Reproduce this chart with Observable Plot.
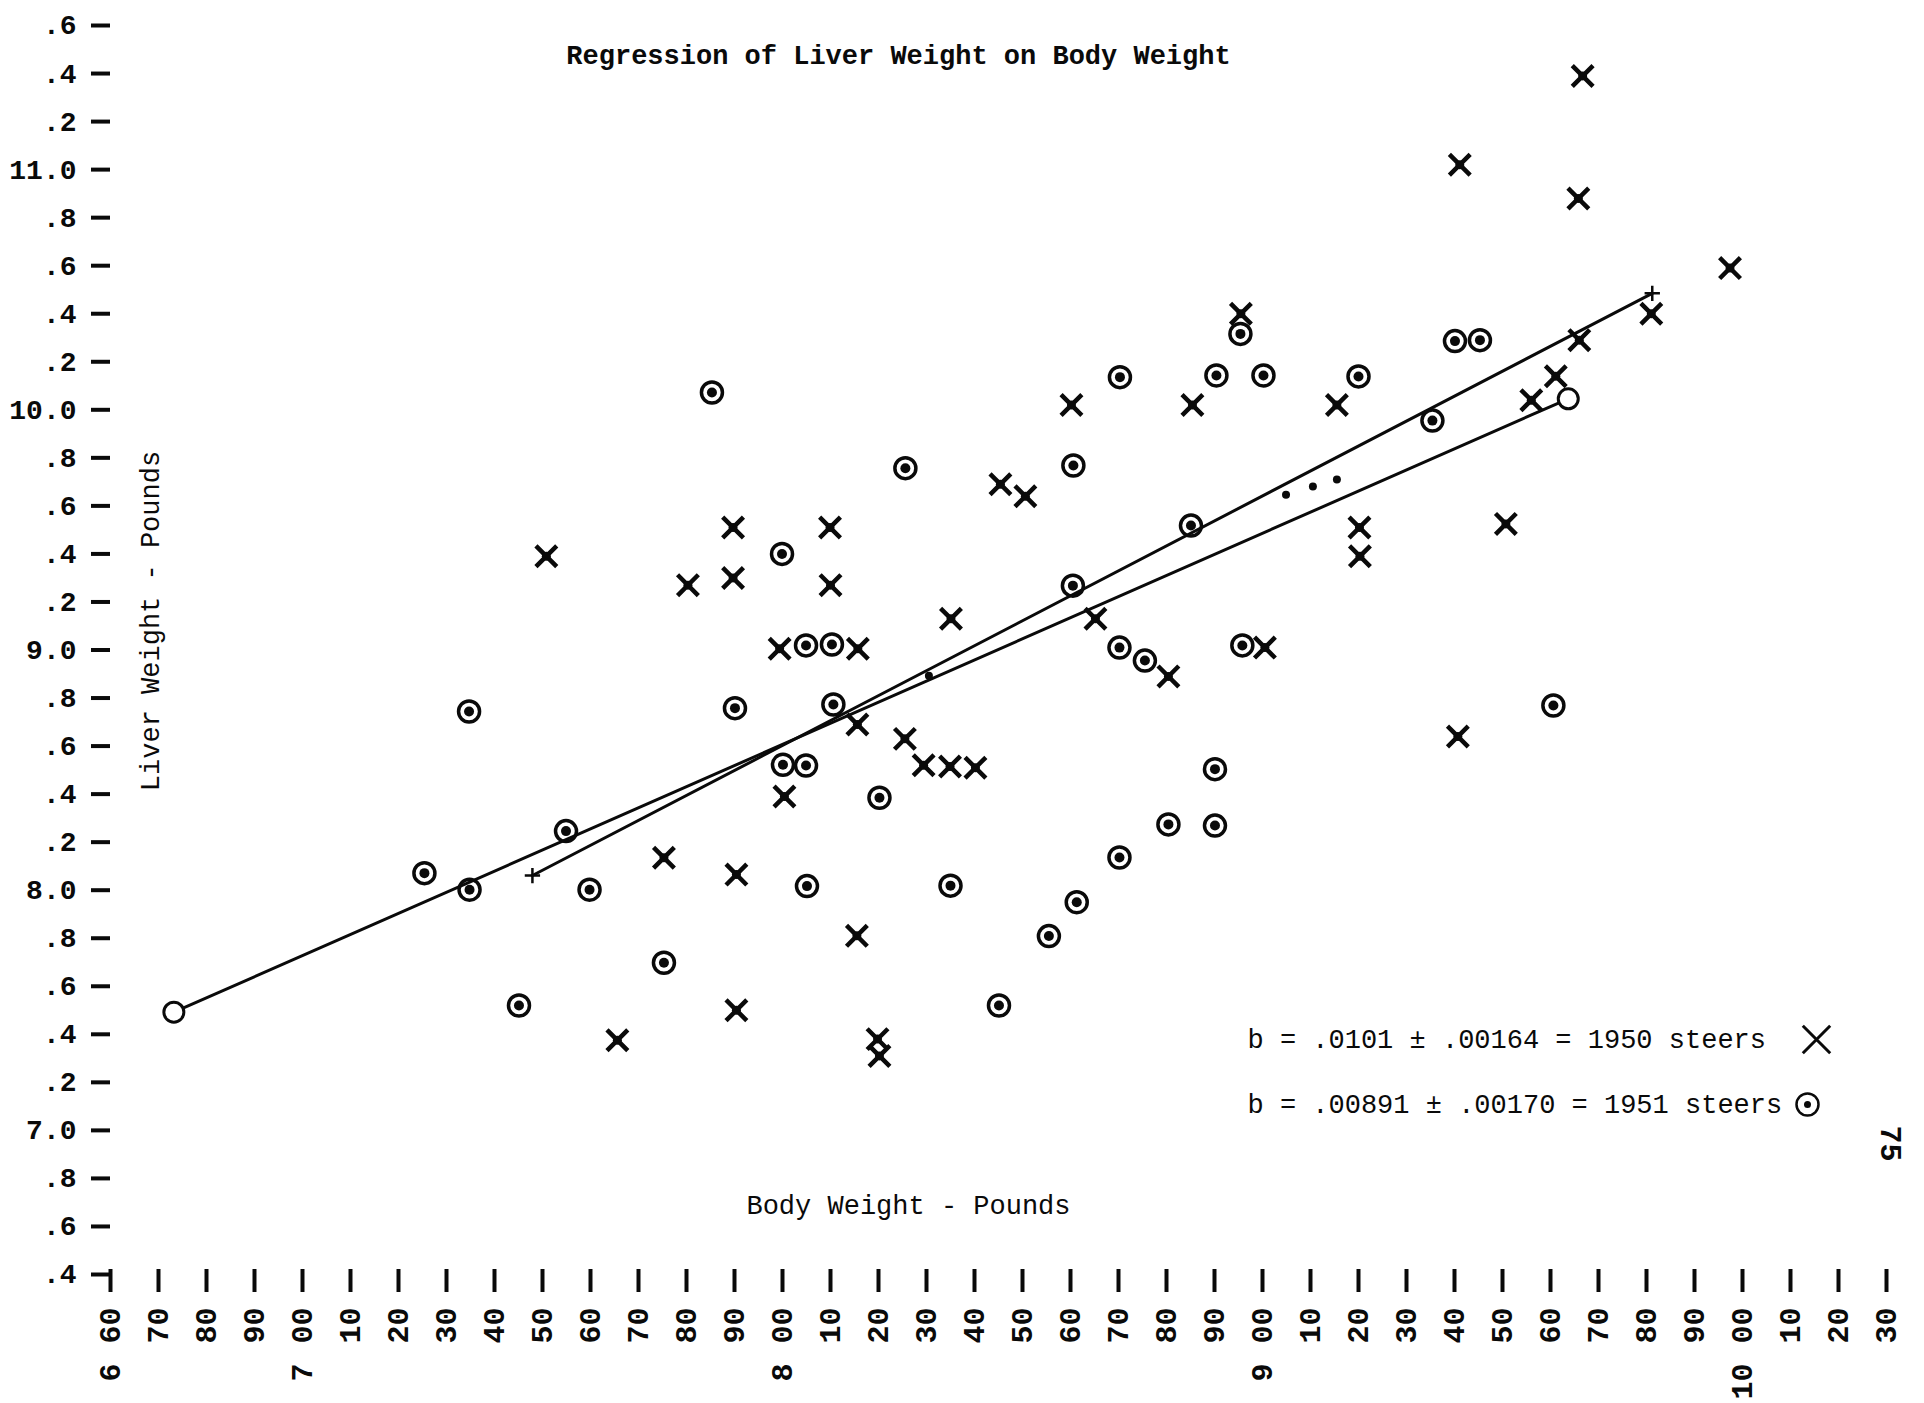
<!DOCTYPE html>
<html>
<head>
<meta charset="utf-8">
<script src="https://cdn.jsdelivr.net/npm/d3@7"></script>
<script src="https://cdn.jsdelivr.net/npm/@observablehq/plot@0.6"></script>
<style>
  html, body { margin: 0; padding: 0; background: #fff; }
  #chart { width: 1924px; height: 1403px; overflow: hidden; }
</style>
</head>
<body>
<div id="chart"></div>
<script>
// ---- Texts ----
const titleText = "Regression of Liver Weight on Body Weight";
const xTitle = "Body Weight - Pounds";
const yTitle = "Liver Weight - Pounds";
const legend1950 = "b = .0101 ± .00164 = 1950 steers";
const legend1951 = "b = .00891 ± .00170 = 1951 steers";
const pageNumber = "75";

// ---- Tick values and labels ----
const xTickValues = [660, 670, 680, 690, 700, 710, 720, 730, 740, 750, 760, 770, 780, 790, 800, 810, 820, 830, 840, 850, 860, 870, 880, 890, 900, 910, 920, 930, 940, 950, 960, 970, 980, 990, 1000, 1010, 1020, 1030];
const xTickLabels = ["60", "70", "80", "90", "00", "10", "20", "30", "40", "50", "60", "70", "80", "90", "00", "10", "20", "30", "40", "50", "60", "70", "80", "90", "00", "10", "20", "30", "40", "50", "60", "70", "80", "90", "00", "10", "20", "30"];
const xHundredValues = [660, 700, 800, 900, 1000];
const xHundredLabels = ["6", "7", "8", "9", "10"];
const yTickValues = [6.4, 6.6, 6.8, 7.0, 7.2, 7.4, 7.6, 7.8, 8.0, 8.2, 8.4, 8.6, 8.8, 9.0, 9.2, 9.4, 9.6, 9.8, 10.0, 10.2, 10.4, 10.6, 10.8, 11.0, 11.2, 11.4, 11.6];
const yTickLabels = [".4", ".6", ".8", "7.0", ".2", ".4", ".6", ".8", "8.0", ".2", ".4", ".6", ".8", "9.0", ".2", ".4", ".6", ".8", "10.0", ".2", ".4", ".6", ".8", "11.0", ".2", ".4", ".6"];

// ---- 1950 steers (X) ----
const body1950 = [966.7, 941.1, 965.8, 997.4, 895.5, 966.0, 981.0, 961.1, 956.0, 860.2, 885.4, 915.5, 845.4, 850.6, 789.7, 809.9, 920.2, 950.7, 750.8, 920.3, 789.7, 780.3, 810.0, 835.1, 865.2, 799.4, 815.7, 900.5, 880.4, 815.6, 825.5, 829.4, 834.9, 840.2, 940.7, 800.4, 775.3, 790.4, 815.5, 790.4, 765.6, 819.8, 820.2];
const liver1950 = [11.39, 11.02, 10.88, 10.59, 10.40, 10.29, 10.40, 10.14, 10.04, 10.02, 10.02, 10.02, 9.69, 9.64, 9.51, 9.51, 9.51, 9.525, 9.39, 9.39, 9.30, 9.27, 9.27, 9.13, 9.13, 9.005, 9.005, 9.01, 8.89, 8.69, 8.63, 8.52, 8.515, 8.51, 8.64, 8.39, 8.135, 8.065, 7.81, 7.50, 7.375, 7.38, 7.31];

// ---- 1951 steers (circled dot) ----
const body1951 = [895.4, 940.1, 945.3, 870.3, 890.4, 900.2, 920.0, 785.3, 935.4, 825.6, 860.6, 885.1, 799.9, 860.5, 804.9, 810.3, 870.2, 895.8, 875.5, 734.7, 790.1, 810.6, 960.6, 800.1, 804.9, 890.1, 820.2, 754.9, 880.4, 890.1, 870.2, 725.4, 734.8, 759.8, 805.1, 835.0, 861.3, 775.3, 855.5, 745.1, 845.1];
const liver1951 = [10.316, 10.286, 10.29, 10.136, 10.143, 10.143, 10.139, 10.072, 9.955, 9.757, 9.768, 9.518, 9.40, 9.268, 9.019, 9.023, 9.01, 9.019, 8.956, 8.744, 8.758, 8.773, 8.769, 8.522, 8.519, 8.504, 8.385, 8.246, 8.274, 8.269, 8.136, 8.071, 8.002, 8.002, 8.017, 8.019, 7.95, 7.698, 7.809, 7.52, 7.52];

// ---- Regression line end points ----
const reg1950Body = [747.9, 981.2];
const reg1950Liver = [8.061, 10.485];
const reg1951Body = [673.2, 963.7];
const reg1951Liver = [7.492, 10.046];

// ---- small ink dots near the lines ----
const speckBody = [830.5, 904.9, 910.5, 915.5];
const speckLiver = [8.893, 9.646, 9.681, 9.710];

// ---- build tables ----
const s1950 = body1950.map((b, i) => ({body: b, liver: liver1950[i]}));
const s1951 = body1951.map((b, i) => ({body: b, liver: liver1951[i]}));
const r1950 = reg1950Body.map((b, i) => ({body: b, liver: reg1950Liver[i]}));
const r1951 = reg1951Body.map((b, i) => ({body: b, liver: reg1951Liver[i]}));
const specks = speckBody.map((b, i) => ({body: b, liver: speckLiver[i]}));

const FONT = "'Liberation Mono', 'DejaVu Sans Mono', monospace";
const INK = "#0a0a0a";

const chart = Plot.plot({
  width: 1924,
  height: 1403,
  marginLeft: 110,
  marginRight: 38,
  marginTop: 25,
  marginBottom: 129,
  x: {domain: [660, 1030]},
  y: {domain: [6.4, 11.6]},
  style: {fontFamily: FONT, fontSize: "27px", background: "#fff", color: INK},
  marks: [
    // y axis: thick dashes + labels
    Plot.axisY(yTickValues, {
      anchor: "left", label: null, tickSize: 19, tickPadding: 15,
      strokeWidth: 4, stroke: INK, fill: INK, fontWeight: "bold", fontSize: 28,
      tickFormat: d => yTickLabels[yTickValues.indexOf(d)]
    }),
    // x axis: vertical tick strokes only
    Plot.axisX(xTickValues, {
      anchor: "bottom", label: null, tickSize: 23, tickPadding: 0, dy: -5,
      strokeWidth: 4, stroke: INK,
      tickFormat: () => ""
    }),
    // x axis: two-digit labels (typed sideways)
    Plot.axisX(xTickValues, {
      anchor: "bottom", label: null, tickSize: 0, tickPadding: 33,
      rotate: -90, textAnchor: "end", lineAnchor: "middle", fill: INK, fontWeight: "bold", fontSize: 30,
      tickFormat: d => xTickLabels[xTickValues.indexOf(d)]
    }),
    // hundreds digits
    Plot.axisX(xHundredValues, {
      anchor: "bottom", label: null, tickSize: 0, tickPadding: 89,
      rotate: -90, textAnchor: "end", lineAnchor: "middle", fill: INK, fontWeight: "bold", fontSize: 30,
      tickFormat: d => xHundredLabels[xHundredValues.indexOf(d)]
    }),
    // regression lines
    Plot.line(r1950, {x: "body", y: "liver", stroke: INK, strokeWidth: 3}),
    Plot.line(r1951, {x: "body", y: "liver", stroke: INK, strokeWidth: 3}),
    Plot.dot(r1950, {x: "body", y: "liver", symbol: "plus", r: 5, stroke: INK, strokeWidth: 2.5}),
    Plot.dot(r1951, {x: "body", y: "liver", r: 10, stroke: INK, strokeWidth: 3, fill: "#fff"}),
    Plot.dot(specks, {x: "body", y: "liver", r: 4, fill: INK}),
    // 1950 steers
    Plot.dot(s1950, {x: "body", y: "liver", symbol: "times", r: 9.5, stroke: INK, strokeWidth: 4.5}),
    Plot.dot(s1950, {x: "body", y: "liver", r: 4.5, fill: INK}),
    // 1951 steers
    Plot.dot(s1951, {x: "body", y: "liver", r: 10.5, stroke: INK, strokeWidth: 3.5, fill: "none"}),
    Plot.dot(s1951, {x: "body", y: "liver", r: 5, fill: INK}),
    // title
    Plot.text([titleText], {text: d => d, frameAnchor: "top", dx: -100, dy: 30, textAnchor: "middle", lineAnchor: "middle", fontSize: 27, fontWeight: "bold", fill: INK}),
    // axis titles
    Plot.text([yTitle], {text: d => d, frameAnchor: "left", dx: 40, dy: -29, rotate: -90, textAnchor: "middle", lineAnchor: "middle", fontSize: 27, fill: INK}),
    Plot.text([xTitle], {text: d => d, frameAnchor: "bottom", dx: -90, dy: -69, textAnchor: "middle", lineAnchor: "middle", fontSize: 27, fill: INK}),
    // legend
    Plot.text([legend1950], {text: d => d, frameAnchor: "bottom-right", dx: -639, dy: -235, textAnchor: "start", lineAnchor: "middle", fontSize: 27, fill: INK}),
    Plot.text([legend1951], {text: d => d, frameAnchor: "bottom-right", dx: -639, dy: -170, textAnchor: "start", lineAnchor: "middle", fontSize: 27, fill: INK}),
    Plot.dot([legend1950], {frameAnchor: "bottom-right", dx: -70, dy: -235, symbol: "times", r: 12.5, stroke: INK, strokeWidth: 3}),
    Plot.dot([legend1951], {frameAnchor: "bottom-right", dx: -79, dy: -170, r: 11, stroke: INK, strokeWidth: 2.5, fill: "none"}),
    Plot.dot([legend1951], {frameAnchor: "bottom-right", dx: -79, dy: -170, r: 3.5, fill: INK}),
    // page number
    Plot.text([pageNumber], {text: d => d, frameAnchor: "bottom-right", dx: 4, dy: -131, rotate: 90, textAnchor: "middle", lineAnchor: "middle", fontSize: 30, fontWeight: "bold", fill: INK})
  ]
});

document.getElementById("chart").appendChild(chart);
</script>
</body>
</html>
